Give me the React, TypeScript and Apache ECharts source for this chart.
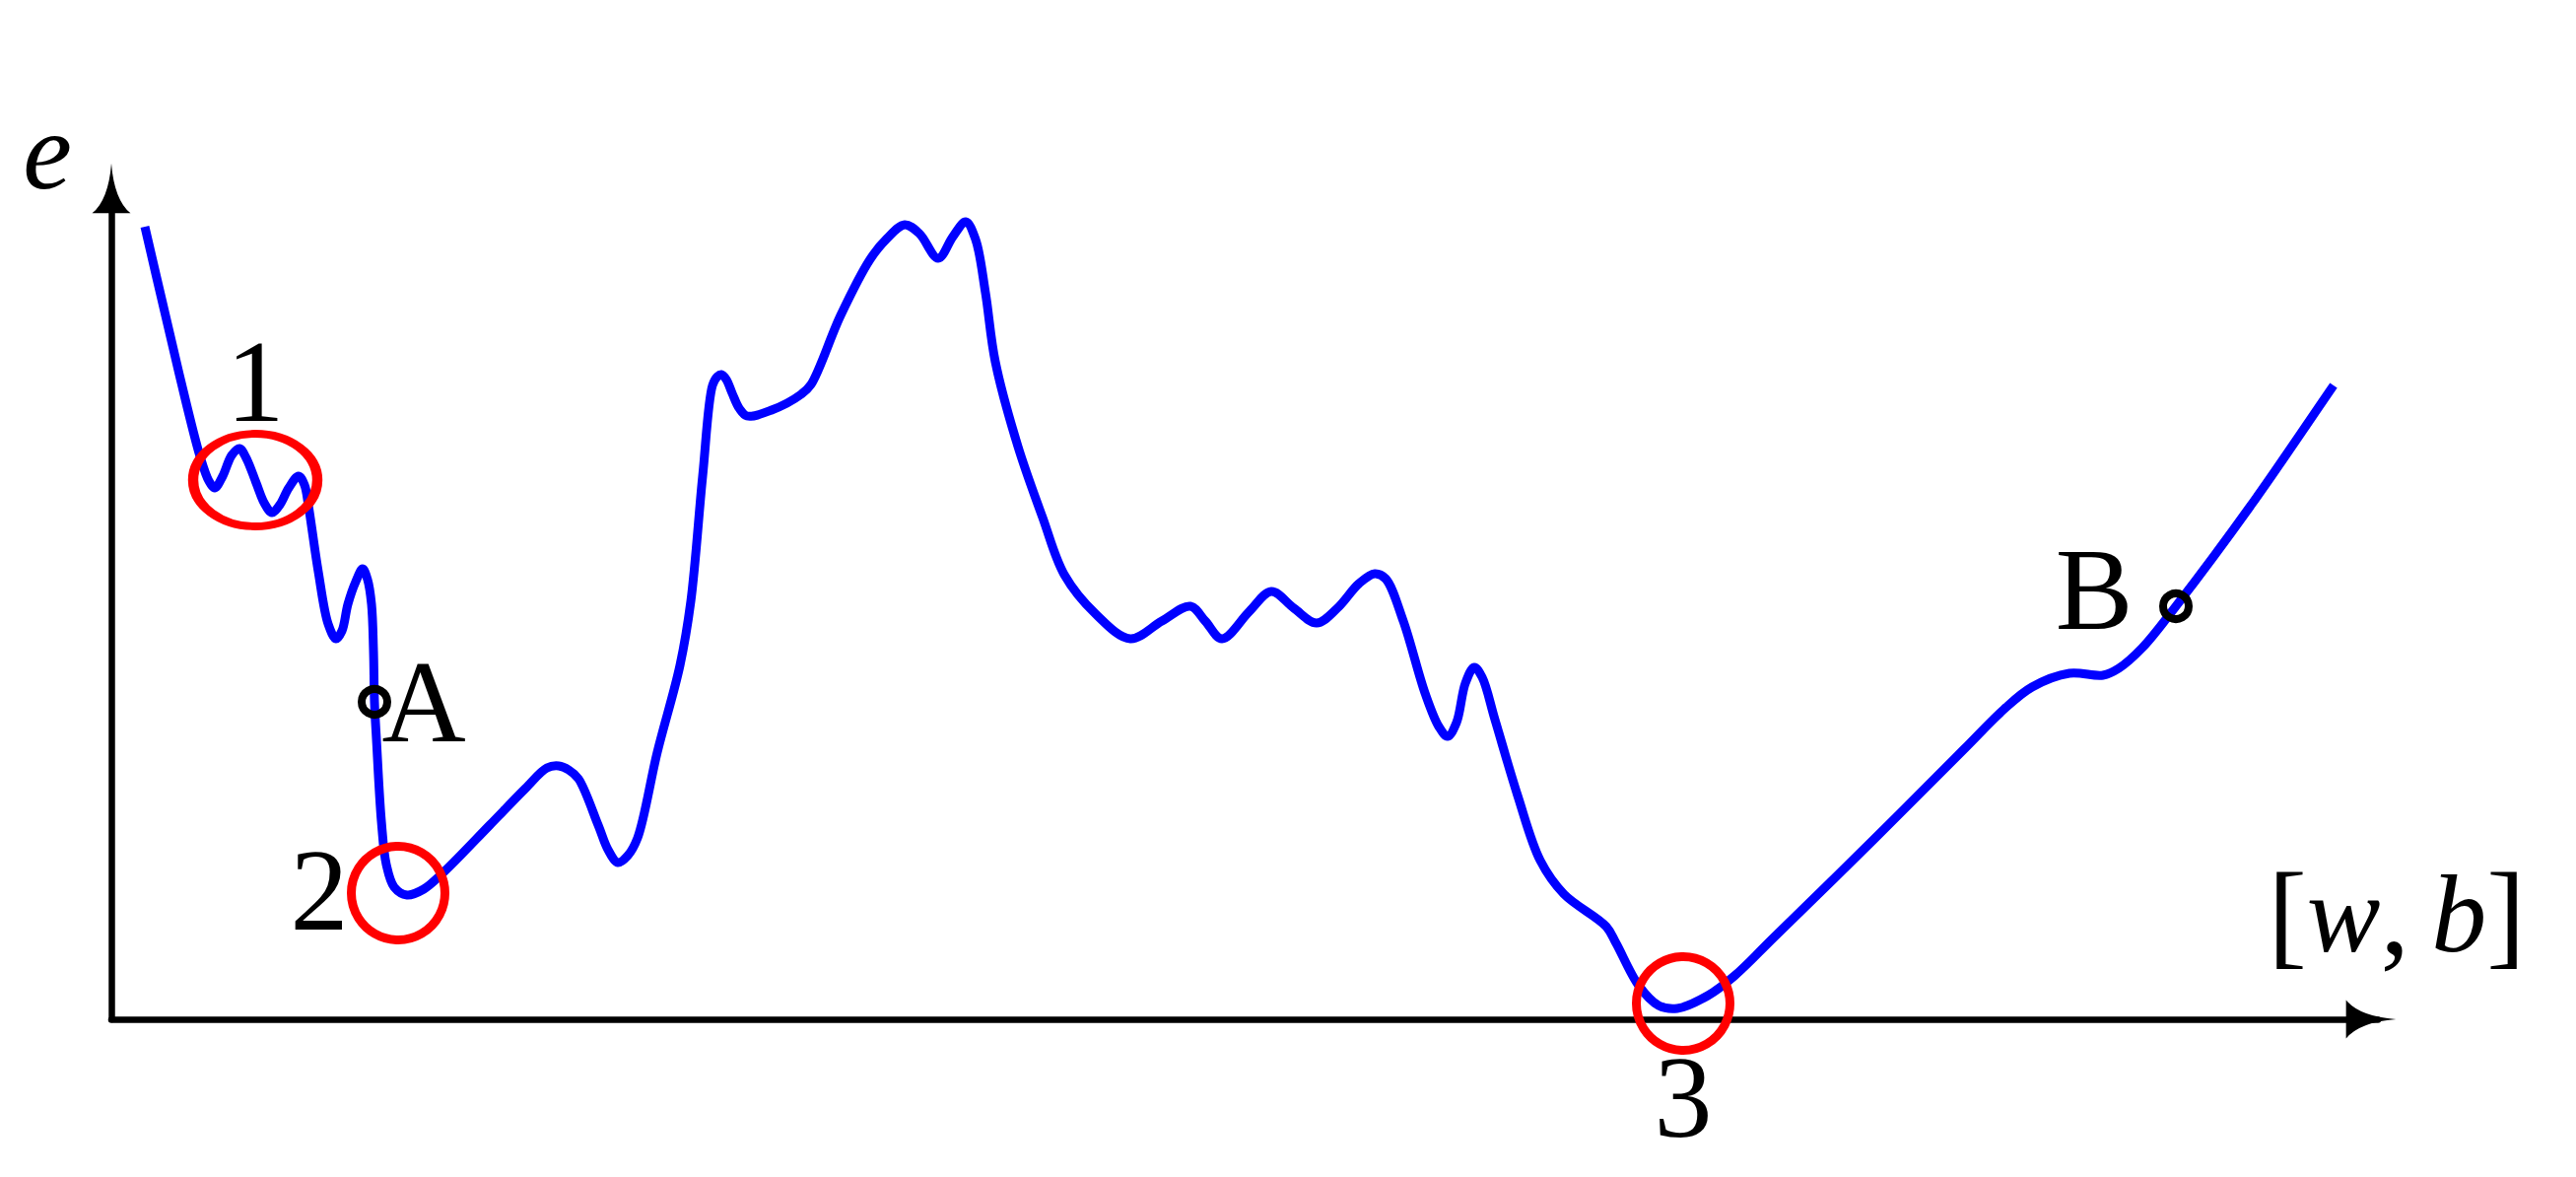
import React, { useEffect, useRef } from "react";
import * as echarts from "echarts";

// Loss curve e over parameters [w, b]
const curveW = [
  3.4, 6.9, 9.0, 9.9, 10.5, 11.3, 12.2, 13.0, 13.7, 14.7, 15.5, 16.3, 17.1, 18.0, 19.0, 19.6, 20.0,
  21.0, 22.0, 22.8, 23.4, 24.0, 24.8, 25.5, 26.0, 26.4, 26.6, 26.7, 26.9, 27.4, 27.9, 28.7, 30.0,
  31.7, 33.7, 38.4, 42.0, 44.2, 45.4, 46.4, 47.4, 49.4, 50.4, 51.4, 52.4, 53.4, 55.4, 57.7, 58.8,
  60.0, 61.0, 61.5, 61.9, 62.4, 63.0, 63.7, 64.5, 67.0, 70.0, 71.0, 74.0, 77.0, 78.7, 80.5, 82.0,
  83.9, 85.4, 86.7, 87.7, 88.7, 89.7, 92.0, 94.5, 96.7, 99.9, 103.4, 106.6, 109.5, 111.0, 112.7,
  115.5, 117.7, 120.0, 122.3, 124.4, 126.6, 128.2, 129.3, 131.1, 133.3, 134.7, 135.6, 136.5, 137.4,
  138.3, 139.1, 140.4, 142.7, 145.0, 147.4, 151.7, 152.7, 155.0, 157.0, 158.9, 162.0, 164.7, 168.7,
  178.7, 188.0, 192.0, 194.9, 198.7, 202.1, 203.7, 206.1, 209.5, 217.3, 225.5,
];
const curveE = [
  80.4, 65.4, 57.1, 54.6, 53.9, 55.1, 57.2, 57.9, 56.9, 54.4, 52.4, 51.4, 52.2, 53.9, 55.1, 54.2, 52.1,
  45.4, 40.1, 38.6, 39.4, 42.1, 44.4, 45.7, 44.6, 42.1, 37.4, 32.2, 28.4, 20.1, 15.7, 13.4, 12.6,
  13.2, 14.9, 19.7, 23.4, 25.5, 25.7, 25.3, 24.4, 19.7, 17.2, 15.9, 16.6, 18.4, 27.1, 35.9, 42.4,
  55.1, 64.3, 65.2, 65.4, 64.9, 63.5, 62.0, 61.2, 61.8, 63.4, 64.4, 71.4, 77.1, 79.2, 80.6, 79.7,
  77.2, 79.4, 80.9, 79.1, 73.7, 66.7, 58.1, 50.9, 45.1, 41.1, 38.6, 40.4, 41.9, 40.4, 38.6,
  41.4, 43.4, 41.7, 40.2, 41.7, 44.2, 45.2, 44.7, 40.4, 33.1, 29.7, 28.7, 30.1, 34.1,
  35.7, 34.7, 30.4, 22.7, 16.1, 12.7, 9.4, 7.7, 3.4, 1.4, 1.1, 2.4, 4.4, 8.3,
  18.1, 27.4, 31.4, 33.7, 35.1, 34.9, 35.6, 37.7, 41.9, 52.4, 64.3,
];

// Marked points on the curve
const markerNames = ["A", "B"];
const markerW = [26.7, 209.5];
const markerE = [32.2, 41.9];

// Highlighted minima (red circles)
const highlightNames = ["1", "2", "3"];
const highlightW = [14.6, 29.1, 159.5];
const highlightE = [54.7, 12.8, 1.6];

const xAxisName = "{u|[}{it|w}{u|,}{it|\u2009b}{u|]}";
const yAxisName = "e";

const SERIF = "'Liberation Serif', 'Times New Roman', serif";
const arrowPath = "path://M20,0 Q23,38 40,52 L0,52 Q17,38 20,0 Z";
const ellipsePath = "path://M0,50 A50,50 0 1,1 100,50 A50,50 0 1,1 0,50 Z";

// Centripetal Catmull-Rom through pixel points -> SVG path data
function smoothPath(pts: number[][]): string {
  const n = pts.length;
  if (n < 2) return "";
  const P = (i: number): number[] => {
    if (i < 0) return [2 * pts[0][0] - pts[1][0], 2 * pts[0][1] - pts[1][1]];
    if (i >= n) return [2 * pts[n - 1][0] - pts[n - 2][0], 2 * pts[n - 1][1] - pts[n - 2][1]];
    return pts[i];
  };
  const dist = (a: number[], b: number[]) => Math.max(1e-6, Math.pow(Math.hypot(b[0] - a[0], b[1] - a[1]), 0.5));
  let d = `M${pts[0][0].toFixed(2)},${pts[0][1].toFixed(2)}`;
  for (let i = 0; i < n - 1; i++) {
    const p0 = P(i - 1), p1 = P(i), p2 = P(i + 1), p3 = P(i + 2);
    const d1 = dist(p0, p1), d2 = dist(p1, p2), d3 = dist(p2, p3);
    const b1 = [0, 1].map(
      (k) => (d1 * d1 * p2[k] - d2 * d2 * p0[k] + (2 * d1 * d1 + 3 * d1 * d2 + d2 * d2) * p1[k]) / (3 * d1 * (d1 + d2))
    );
    const b2 = [0, 1].map(
      (k) => (d3 * d3 * p1[k] - d2 * d2 * p3[k] + (2 * d3 * d3 + 3 * d3 * d2 + d2 * d2) * p2[k]) / (3 * d3 * (d3 + d2))
    );
    d += ` C${b1[0].toFixed(2)},${b1[1].toFixed(2)} ${b2[0].toFixed(2)},${b2[1].toFixed(2)} ${p2[0].toFixed(2)},${p2[1].toFixed(2)}`;
  }
  return d;
}

export default function App() {
  const ref = useRef<HTMLDivElement>(null);

  useEffect(() => {
    if (!ref.current) return;
    const chart = echarts.init(ref.current, undefined, { renderer: "svg" });

    const curveData = curveW.map((w, i) => [w, curveE[i]]);

    const highlightOffsets = [
      [0, -100],
      [-80, -3],
      [0, 95],
    ];
    const highlightSizes: any[] = [[126, 94], 95, 95];
    const highlightSymbols = [ellipsePath, "circle", "circle"];
    const highlightData = highlightNames.map((n, i) => ({
      name: n,
      value: [highlightW[i], highlightE[i]],
      symbol: highlightSymbols[i],
      symbolSize: highlightSizes[i],
      label: { offset: highlightOffsets[i] },
    }));

    const markerOffsets = [
      [50, 0],
      [-83, -17],
    ];
    const markerData = markerNames.map((n, i) => ({
      name: n,
      value: [markerW[i], markerE[i]],
      label: { offset: markerOffsets[i] },
    }));

    const labelStyle = {
      show: true,
      position: "inside",
      formatter: "{b}",
      fontFamily: SERIF,
      fontSize: 118,
      color: "#000",
      opacity: 1,
      textBorderWidth: 0,
      align: "center",
      verticalAlign: "middle",
    };

    chart.setOption({
      animation: false,
      backgroundColor: "#ffffff",
      grid: { left: 113, right: 201, top: 194, bottom: 160, containLabel: false },
      xAxis: {
        type: "value",
        min: 0,
        max: 230,
        name: xAxisName,
        nameLocation: "end",
        nameGap: 19,
        nameTextStyle: {
          align: "center",
          verticalAlign: "middle",
          padding: [0, 0, 214, 0],
          fontFamily: SERIF,
          fontSize: 112,
          color: "#000",
          rich: {
            u: { fontFamily: SERIF, fontSize: 118, color: "#000" },
            it: { fontFamily: SERIF, fontSize: 112, fontStyle: "italic", color: "#000" },
          },
        },
        axisLine: {
          show: true,
          onZero: false,
          symbol: ["none", arrowPath],
          symbolSize: [39, 52],
          symbolOffset: [0, -7],
          lineStyle: { color: "#000", width: 6.5 },
        },
        axisTick: { show: false },
        axisLabel: { show: false },
        splitLine: { show: false },
      },
      yAxis: {
        type: "value",
        min: 0,
        max: 84,
        name: yAxisName,
        nameLocation: "end",
        nameGap: 41,
        nameTextStyle: {
          align: "right",
          verticalAlign: "middle",
          padding: [0, 40, 0, 0],
          fontFamily: SERIF,
          fontStyle: "italic",
          fontSize: 112,
          color: "#000",
        },
        axisLine: {
          show: true,
          onZero: false,
          symbol: ["none", arrowPath],
          symbolSize: [39, 52],
          symbolOffset: [0, 3],
          lineStyle: { color: "#000", width: 6.5 },
        },
        axisTick: { show: false },
        axisLabel: { show: false },
        splitLine: { show: false },
      },
      series: [
        {
          type: "custom",
          name: "e",
          data: curveData,
          clip: false,
          z: 2,
          renderItem: (params: any, api: any) => {
            if (params.dataIndex !== 0) return null;
            const pts = curveData.map((d) => api.coord(d));
            return {
              type: "path",
              shape: { pathData: smoothPath(pts) },
              style: {
                fill: "none",
                stroke: "#0000ff",
                lineWidth: 9,
                lineCap: "butt",
                lineJoin: "round",
              },
            };
          },
        },
        {
          type: "scatter",
          data: highlightData,
          clip: false,
          itemStyle: { color: "rgba(0,0,0,0)", borderColor: "#ff0000", borderWidth: 9, opacity: 1 },
          label: labelStyle,
          z: 3,
        },
        {
          type: "scatter",
          data: markerData,
          clip: false,
          symbol: "circle",
          symbolSize: 26,
          itemStyle: { color: "rgba(0,0,0,0)", borderColor: "#000000", borderWidth: 8, opacity: 1 },
          label: labelStyle,
          z: 4,
        },
      ],
    });

    return () => chart.dispose();
  }, []);

  return (
    <div
      ref={ref}
      style={{ position: "absolute", left: 0, top: 0, width: 2614, height: 1194, background: "#fff" }}
    />
  );
}
